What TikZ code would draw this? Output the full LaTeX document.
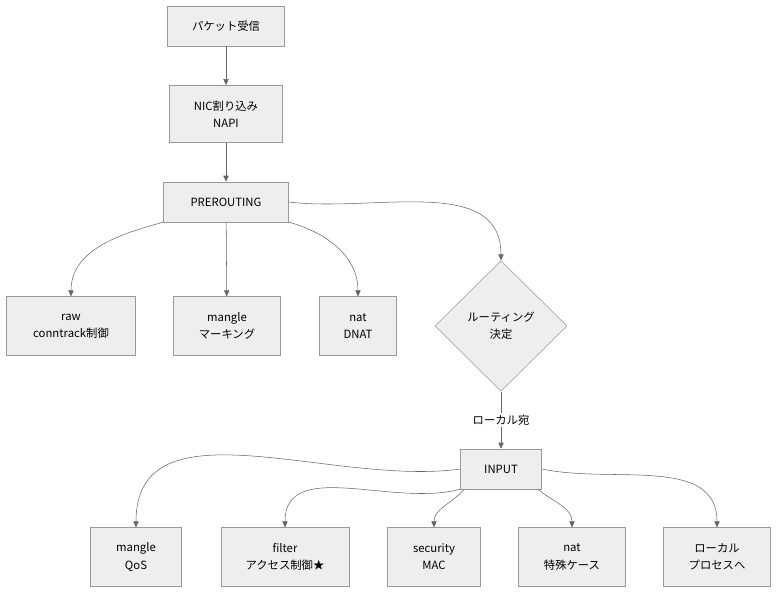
\documentclass[tikz,border=0pt]{standalone}
\usepackage{fontspec}
\setmainfont{Noto Sans CJK JP}
\usetikzlibrary{shapes.geometric, arrows.meta}
\definecolor{boxfill}{HTML}{EEEEEE}
\definecolor{boxline}{HTML}{999999}
\definecolor{edge}{HTML}{666666}

\begin{document}
\begin{tikzpicture}[
    x=0.75pt, y=-0.75pt,
    every node/.style={font=\fontsize{8.5}{13}\selectfont, align=center},
    box/.style={rectangle, draw=boxline, fill=boxfill, minimum height=30pt},
    decide/.style={diamond, draw=boxline, fill=boxfill, minimum width=99pt, minimum height=98pt, inner sep=0pt},
    flow/.style={draw=edge, -{Triangle[length=4.5pt,width=4pt]}}
  ]
  \useasboundingbox (0,0) rectangle (784,600);
  \node[box, minimum width=88pt] (packet) at (226,26) {パケット受信};
  \node[box, minimum width=85pt, minimum height=43pt] (nic) at (226,114) {NIC割り込み\\NAPI};
  \node[box, minimum width=94pt] (prerouting) at (226,202) {PREROUTING};
  \node[box, minimum width=97pt, minimum height=44pt] (raw) at (71,326) {raw\\conntrack制御};
  \node[box, minimum width=80pt, minimum height=44pt] (premangle) at (227,326) {mangle\\マーキング};
  \node[box, minimum width=58pt, minimum height=44pt] (prenat) at (358,326) {nat\\DNAT};
  \node[decide] (route) at (501,326) {ルーティング\\決定};
  \node[box, minimum width=61pt] (input) at (501,469) {INPUT};
  \node[box, minimum width=68pt, minimum height=44pt] (inmangle) at (136,557) {mangle\\QoS};
  \node[box, minimum width=96pt, minimum height=44pt] (infilter) at (285,557) {filter\\アクセス制御★};
  \node[box, minimum width=70pt, minimum height=44pt] (insecurity) at (434,557) {security\\MAC};
  \node[box, minimum width=80pt, minimum height=44pt] (innat) at (572,557) {nat\\特殊ケース};
  \node[box, minimum width=80pt, minimum height=44pt] (local) at (717,557) {ローカル\\プロセスへ};

  \draw[flow] (packet) -- (nic);
  \draw[flow] (nic) -- (prerouting);
  \draw[flow] (prerouting.south west) to[out=-165, in=90] (raw.north);
  \draw[flow] (prerouting) -- (premangle);
  \draw[flow] (prerouting.south east) to[out=-15, in=90] (prenat.north);
  \draw[flow] (prerouting.east) to[out=-7, in=90] (route.north);
  \draw[flow] (route) -- node[fill=white, inner sep=1.5pt] {ローカル宛} (input);
  \draw[flow] (input.west) to[out=-172, in=90] (inmangle.north);
  \draw[flow] (input.south west) to[out=-165, in=90] (infilter.north);
  \draw[flow] (input.south west) ++(4,0) to[out=-130, in=90] (insecurity.north);
  \draw[flow] (input.south east) ++(-4,0) to[out=-40, in=90] (innat.north);
  \draw[flow] (input.east) to[out=-12, in=90] (local.north);
\end{tikzpicture}
\end{document}
